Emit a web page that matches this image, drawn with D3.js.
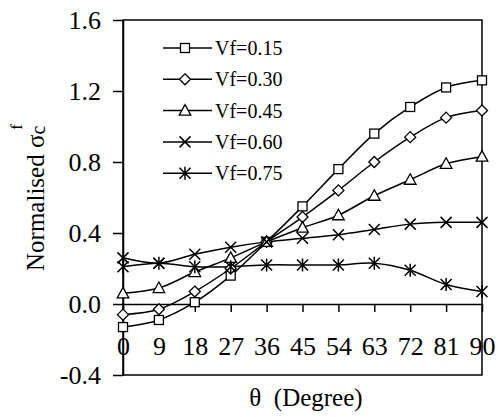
<!DOCTYPE html>
<html>
<head>
<meta charset="utf-8">
<script src="https://cdn.jsdelivr.net/npm/d3@7"></script>
<style>
  body { margin: 0; background: #fff; }
  svg text { font-family: "Liberation Serif", Tinos, serif; fill: #000; }
</style>
</head>
<body>
<script>
// fibre orientation angle (degree)
const angles = [0, 9, 18, 27, 36, 45, 54, 63, 72, 81, 90];

// normalised sigma_c^f per fibre volume fraction
const vf15 = [-0.13, -0.09, 0.01, 0.16, 0.35, 0.55, 0.76, 0.96, 1.11, 1.22, 1.26];
const vf30 = [-0.06, -0.03, 0.07, 0.20, 0.35, 0.49, 0.64, 0.80, 0.94, 1.05, 1.09];
const vf45 = [0.06, 0.09, 0.18, 0.26, 0.35, 0.43, 0.50, 0.61, 0.70, 0.79, 0.83];
const vf60 = [0.26, 0.23, 0.28, 0.32, 0.35, 0.37, 0.39, 0.42, 0.45, 0.46, 0.46];
const vf75 = [0.21, 0.23, 0.21, 0.21, 0.22, 0.22, 0.22, 0.23, 0.19, 0.11, 0.07];

const seriesNames = ["Vf=0.15", "Vf=0.30", "Vf=0.45", "Vf=0.60", "Vf=0.75"];
const markerTypes = ["square", "diamond", "triangle", "cross", "asterisk"];
const yTicks = [-0.4, 0.0, 0.4, 0.8, 1.2, 1.6];

const W = 499, H = 417;
const plotL = 123, plotR = 482, plotT = 20, plotB = 375;
const FONT = '"Liberation Serif", Tinos, serif';

const svg = d3.select("body").append("svg")
    .attr("width", W)
    .attr("height", H);

const x = d3.scaleLinear().domain([0, 90]).range([plotL, plotR]);
const y = d3.scaleLinear().domain([-0.4, 1.6]).range([plotB, plotT]);

// frame
svg.append("rect")
    .attr("x", plotL).attr("y", plotT)
    .attr("width", plotR - plotL).attr("height", plotB - plotT)
    .attr("fill", "none").attr("stroke", "#000").attr("stroke-width", 1.5);

// y axis
const yAxis = svg.append("g")
    .attr("transform", `translate(${plotL},0)`)
    .call(d3.axisLeft(y).tickValues(yTicks).tickSize(10).tickSizeOuter(0).tickPadding(12)
        .tickFormat(d => d.toFixed(1)));
yAxis.attr("font-family", null);
yAxis.selectAll("line, path").attr("stroke", "#000").attr("stroke-width", 1.5);
yAxis.selectAll("text").style("font-size", "26px").style("font-family", FONT);

// x axis drawn at y = 0
const xAxis = svg.append("g")
    .attr("transform", `translate(0,${y(0)})`)
    .call(d3.axisBottom(x).tickValues(angles).tickSize(8).tickSizeOuter(0).tickPadding(25));
xAxis.attr("font-family", null);
xAxis.selectAll("line, path").attr("stroke", "#000").attr("stroke-width", 1.5);
xAxis.selectAll("text").style("font-size", "26px").style("font-family", FONT);

// markers
function drawMarker(g, type) {
    const common = el => el.attr("fill", "#fff").attr("stroke", "#000").attr("stroke-width", 1.3);
    if (type === "square") {
        common(g.append("rect").attr("x", -4.5).attr("y", -4.5).attr("width", 9).attr("height", 9));
    } else if (type === "diamond") {
        common(g.append("path").attr("d", "M0,-5.5L5.5,0L0,5.5L-5.5,0Z"));
    } else if (type === "triangle") {
        common(g.append("path").attr("d", "M0,-6L5.8,4.5L-5.8,4.5Z"));
    } else if (type === "cross") {
        g.append("path").attr("d", "M-5.5,-5.5L5.5,5.5M-5.5,5.5L5.5,-5.5")
            .attr("stroke", "#000").attr("stroke-width", 1.5).attr("fill", "none");
    } else {
        g.append("path").attr("d", "M-5.5,-5.5L5.5,5.5M-5.5,5.5L5.5,-5.5M0,-6.5L0,6.5")
            .attr("stroke", "#000").attr("stroke-width", 1.5).attr("fill", "none");
    }
}

const allSeries = [vf15, vf30, vf45, vf60, vf75];

const line = d3.line()
    .x((d, i) => x(angles[i]))
    .y(d => y(d))
    .curve(d3.curveCatmullRom.alpha(0.5));

allSeries.forEach(vals => {
    svg.append("path")
        .datum(vals)
        .attr("d", line)
        .attr("fill", "none")
        .attr("stroke", "#000")
        .attr("stroke-width", 1.5);
});

allSeries.forEach((vals, s) => {
    vals.forEach((v, i) => {
        const g = svg.append("g").attr("transform", `translate(${x(angles[i])},${y(v)})`);
        drawMarker(g, markerTypes[s]);
    });
});

// legend
seriesNames.forEach((name, i) => {
    const ly = 48 + i * 31.3;
    svg.append("line")
        .attr("x1", 163).attr("x2", 212).attr("y1", ly).attr("y2", ly)
        .attr("stroke", "#000").attr("stroke-width", 1.5);
    const g = svg.append("g").attr("transform", `translate(185,${ly})`);
    drawMarker(g, markerTypes[i]);
    svg.append("text")
        .attr("x", 215).attr("y", ly).attr("dy", "0.35em")
        .style("font-size", "20px")
        .style("font-family", FONT)
        .text(name);
});

// axis titles
svg.append("text")
    .attr("x", 306).attr("y", 406)
    .attr("text-anchor", "middle")
    .style("font-size", "25px")
    .style("font-family", FONT)
    .style("white-space", "pre")
    .text("θ  (Degree)");

const yt = svg.append("text")
    .attr("transform", `translate(44,${(plotT + plotB) / 2}) rotate(-90)`)
    .attr("text-anchor", "middle")
    .style("font-size", "25px")
    .style("font-family", FONT);
yt.append("tspan").text("Normalised σ");
yt.append("tspan").style("font-size", "20px").attr("dy", 1).text("c");
yt.append("tspan").style("font-size", "17px").attr("dx", -4).attr("dy", -23).text("f");
</script>
</body>
</html>
